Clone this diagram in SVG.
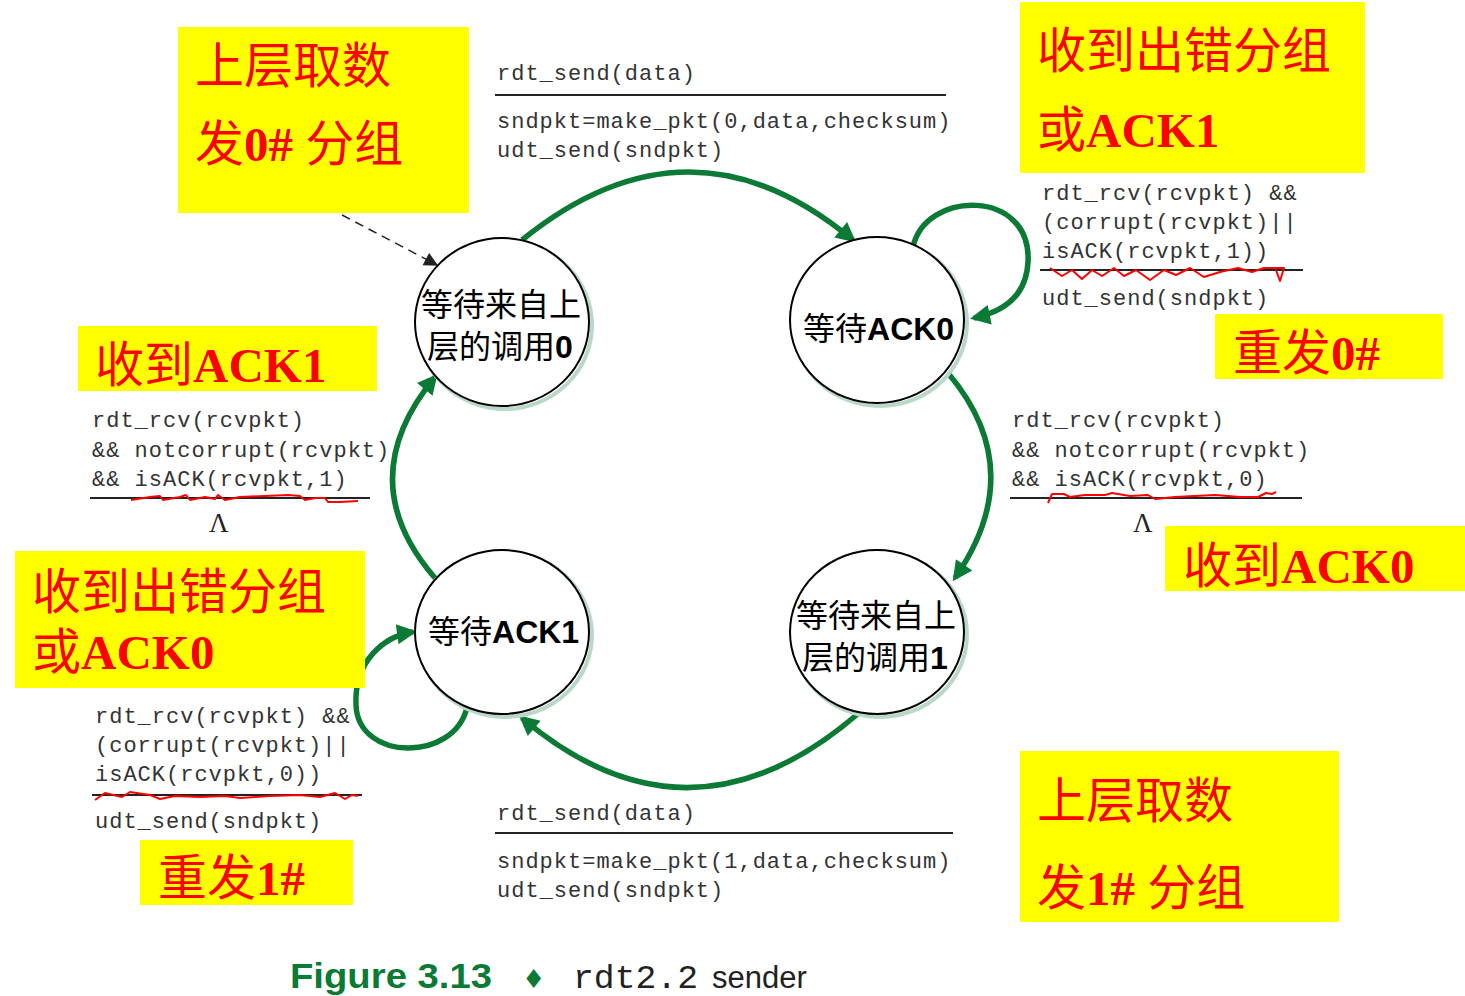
<svg xmlns="http://www.w3.org/2000/svg" width="1465" height="996" viewBox="0 0 1465 996">
<style>
.note{fill:#ffff00}
.red{fill:#ff0000;font-family:"Liberation Serif","Noto Sans CJK SC",serif;font-size:49px}
.cj{font-weight:normal}
.en{font-weight:bold}
.mono{fill:#333;font-family:"Liberation Mono",monospace;font-size:22px;letter-spacing:1px}
.rule{stroke:#222;stroke-width:2}
.wave{fill:none;stroke:#ff0000;stroke-width:2;stroke-linejoin:round}
.st{fill:#fff;stroke:#000;stroke-width:2}
.shadow{fill:none;stroke:#b9d8c8;stroke-width:4}
.lbl{fill:#000;font-family:"Noto Sans CJK SC",serif;font-size:32px}
.lblb{fill:#000;font-family:"Liberation Sans",sans-serif;font-weight:bold;font-size:32px}
.lam{font-family:"Liberation Serif",serif;font-size:27px;fill:#222}
.arc{fill:none;stroke:#0a7a35;stroke-width:5.5;marker-end:url(#ah)}
</style>
<defs>
<marker id="ah" viewBox="0 0 10 10" refX="8" refY="5" markerWidth="22" markerHeight="20" markerUnits="userSpaceOnUse" orient="auto">
<path d="M0,0 L10,5 L0,10 z" fill="#0a7a35"/>
</marker>
<marker id="ahk" viewBox="0 0 10 10" refX="9" refY="5" markerWidth="16" markerHeight="14" markerUnits="userSpaceOnUse" orient="auto">
<path d="M0,0 L10,5 L0,10 z" fill="#222"/>
</marker>
</defs>
<rect width="1465" height="996" fill="#fff"/>

<g id="connectors">
<path class="arc" d="M522,240 Q690,104 853,240"/>
<path class="arc" d="M913,247 C925,190 1032,188 1028,262 C1026,300 998,313 974,318"/>
<path class="arc" d="M948,373 Q1030,470 955,578"/>
<path class="arc" d="M860,712 Q690,860 522,718"/>
<path class="arc" d="M435,578 Q350,480 435,377"/>
<path class="arc" d="M467,707 C455,762 358,762 356,705 C354,660 385,636 413,632"/>
<path d="M342,215 L437,265" fill="none" stroke="#222" stroke-width="1.5" stroke-dasharray="9,6" marker-end="url(#ahk)"/>
</g>

<g id="state-wait-call0">
<ellipse class="shadow" cx="505" cy="325" rx="87" ry="84"/>
<ellipse class="st" cx="502" cy="322" rx="87" ry="84"/>
<text x="421" y="316"><tspan class="lbl">等待来自上</tspan><tspan class="lbl" x="427" y="358">层的调用</tspan><tspan class="lblb">0</tspan></text>
</g>
<g id="state-wait-ack0">
<ellipse class="shadow" cx="880" cy="323" rx="87" ry="83"/>
<ellipse class="st" cx="877" cy="320" rx="87" ry="83"/>
<text x="803" y="340"><tspan class="lbl">等待</tspan><tspan class="lblb">ACK0</tspan></text>
</g>
<g id="state-wait-ack1">
<ellipse class="shadow" cx="505" cy="635" rx="87" ry="82"/>
<ellipse class="st" cx="502" cy="632" rx="87" ry="82"/>
<text x="428" y="643"><tspan class="lbl">等待</tspan><tspan class="lblb">ACK1</tspan></text>
</g>
<g id="state-wait-call1">
<ellipse class="shadow" cx="880" cy="635" rx="87" ry="82"/>
<ellipse class="st" cx="877" cy="632" rx="87" ry="82"/>
<text x="796" y="627"><tspan class="lbl">等待来自上</tspan><tspan class="lbl" x="802" y="669">层的调用</tspan><tspan class="lblb">1</tspan></text>
</g>

<g id="label-top">
<text class="mono" x="497" y="80">rdt_send(data)</text>
<line class="rule" x1="495" y1="95" x2="946" y2="95"/>
<text class="mono" x="497" y="128">sndpkt=make_pkt(0,data,checksum)</text>
<text class="mono" x="497" y="157">udt_send(sndpkt)</text>
</g>
<g id="label-selfloop-ack0">
<text class="mono" x="1042" y="200">rdt_rcv(rcvpkt) &amp;&amp;</text>
<text class="mono" x="1042" y="229">(corrupt(rcvpkt)||</text>
<text class="mono" x="1042" y="258">isACK(rcvpkt,1))</text>
<line class="rule" x1="1040" y1="270" x2="1303" y2="270"/>
<polyline class="wave" points="1050,268 1062,276 1072,270 1082,279 1092,270 1102,276 1114,268 1124,276 1136,270 1150,280 1164,270 1176,275 1190,268 1204,277 1220,272 1238,268 1252,272 1264,268 1276,268 1284,268 1280,281 1276,270"/>
<text class="mono" x="1042" y="305">udt_send(sndpkt)</text>
</g>
<g id="label-ack0">
<text class="mono" x="1012" y="427">rdt_rcv(rcvpkt)</text>
<text class="mono" x="1012" y="457">&amp;&amp; notcorrupt(rcvpkt)</text>
<text class="mono" x="1012" y="486">&amp;&amp; isACK(rcvpkt,0)</text>
<line class="rule" x1="1010" y1="498" x2="1302" y2="498"/>
<polyline class="wave" points="1048,503 1052,494 1064,494 1070,497 1085,495 1105,495 1112,493 1130,496 1148,495 1155,499 1175,497 1195,496 1215,495 1240,497 1258,497 1266,493 1272,494 1276,492"/>
<text class="lam" x="1133" y="532">Λ</text>
</g>
<g id="label-ack1">
<text class="mono" x="92" y="427">rdt_rcv(rcvpkt)</text>
<text class="mono" x="92" y="457">&amp;&amp; notcorrupt(rcvpkt)</text>
<text class="mono" x="92" y="486">&amp;&amp; isACK(rcvpkt,1)</text>
<line class="rule" x1="90" y1="498" x2="370" y2="498"/>
<polyline class="wave" points="131,500 150,497 160,496 163,500 180,497 186,495 190,500 205,497 215,499 218,495 225,500 240,497 265,496 288,495 300,496 305,500 315,498 325,498 328,502 340,502 358,501"/>
<text class="lam" x="209" y="532">Λ</text>
</g>
<g id="label-selfloop-ack1">
<text class="mono" x="95" y="723">rdt_rcv(rcvpkt) &amp;&amp;</text>
<text class="mono" x="95" y="752">(corrupt(rcvpkt)||</text>
<text class="mono" x="95" y="781">isACK(rcvpkt,0))</text>
<line class="rule" x1="92" y1="795" x2="362" y2="795"/>
<polyline class="wave" points="95,800 105,793 122,797 130,792 150,795 160,799 175,796 200,797 225,796 240,798 270,796 300,795 320,797 335,793 345,799 352,795 358,796"/>
<text class="mono" x="95" y="828">udt_send(sndpkt)</text>
</g>
<g id="label-bottom">
<text class="mono" x="497" y="820">rdt_send(data)</text>
<line class="rule" x1="495" y1="833" x2="953" y2="833"/>
<text class="mono" x="497" y="868">sndpkt=make_pkt(1,data,checksum)</text>
<text class="mono" x="497" y="897">udt_send(sndpkt)</text>
</g>

<g id="note-send0">
<rect class="note" x="178" y="27" width="291" height="186"/>
<text class="red" x="195" y="83"><tspan class="cj">上层取数</tspan><tspan class="cj" x="195" y="161">发</tspan><tspan class="en">0# </tspan><tspan class="cj">分组</tspan></text>
</g>
<g id="note-err-ack1">
<rect class="note" x="1020" y="2" width="345" height="171"/>
<text class="red" x="1037" y="68"><tspan class="cj">收到出错分组</tspan><tspan class="cj" x="1037" y="147">或</tspan><tspan class="en">ACK1</tspan></text>
</g>
<g id="note-recv-ack1">
<rect class="note" x="78" y="326" width="299" height="65"/>
<text class="red" x="95" y="382"><tspan class="cj">收到</tspan><tspan class="en">ACK1</tspan></text>
</g>
<g id="note-resend0">
<rect class="note" x="1215" y="314" width="228" height="65"/>
<text class="red" x="1233" y="370"><tspan class="cj">重发</tspan><tspan class="en">0#</tspan></text>
</g>
<g id="note-err-ack0">
<rect class="note" x="15" y="551" width="350" height="137"/>
<text class="red" x="32" y="609"><tspan class="cj">收到出错分组</tspan><tspan class="cj" x="32" y="669">或</tspan><tspan class="en">ACK0</tspan></text>
</g>
<g id="note-recv-ack0">
<rect class="note" x="1165" y="526" width="300" height="65"/>
<text class="red" x="1183" y="583"><tspan class="cj">收到</tspan><tspan class="en">ACK0</tspan></text>
</g>
<g id="note-resend1">
<rect class="note" x="140" y="840" width="213" height="65"/>
<text class="red" x="158" y="895"><tspan class="cj">重发</tspan><tspan class="en">1#</tspan></text>
</g>
<g id="note-send1">
<rect class="note" x="1020" y="751" width="319" height="171"/>
<text class="red" x="1037" y="818"><tspan class="cj">上层取数</tspan><tspan class="cj" x="1037" y="905">发</tspan><tspan class="en">1# </tspan><tspan class="cj">分组</tspan></text>
</g>

<g id="caption">
<text x="290" y="988" style="font-family:'Liberation Sans',sans-serif;font-weight:bold;font-size:35px;fill:#0a7a35" textLength="202" lengthAdjust="spacingAndGlyphs">Figure 3.13</text>
<text x="522" y="988" style="font-family:'DejaVu Sans',sans-serif;font-size:26px;fill:#0a7a35">♦</text>
<text x="573" y="988" style="font-family:'Liberation Mono',monospace;font-size:33px;fill:#222" textLength="125" lengthAdjust="spacingAndGlyphs">rdt2.2</text>
<text x="712" y="988" style="font-family:'Liberation Sans',sans-serif;font-size:31px;fill:#222">sender</text>
</g>
</svg>
